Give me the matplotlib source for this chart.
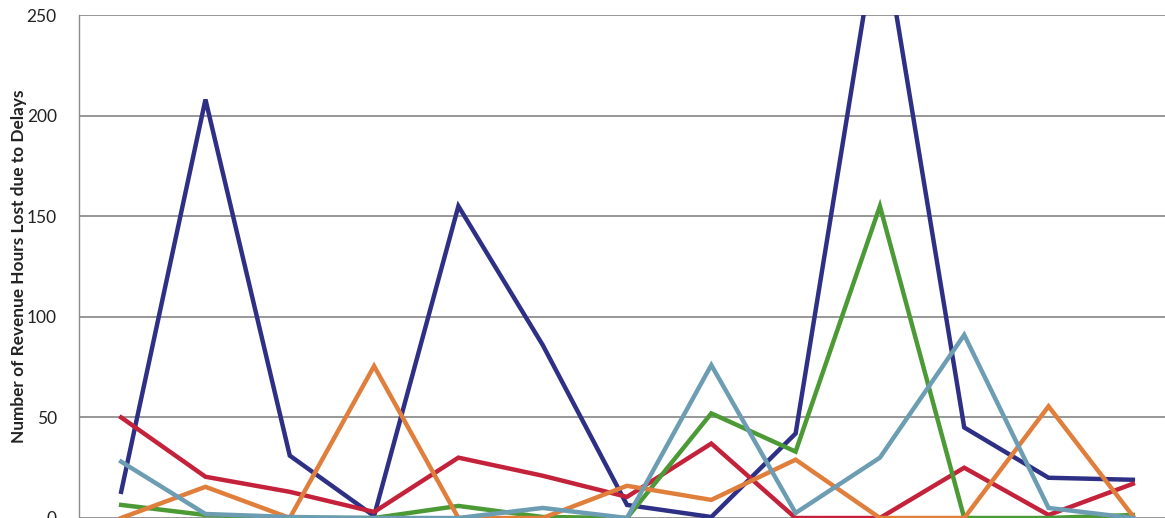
import matplotlib
matplotlib.use("Agg")
import matplotlib.pyplot as plt
import numpy as np

categories = ["1", "2", "3", "4", "5", "6", "7", "8", "9", "10", "11", "12", "13"]
navy_series = [13, 208, 31, 1, 155, 86, 6.5, 0.5, 42, 300, 45, 20, 19]
red_series = [50, 20.5, 13, 3, 30, 21, 10.5, 37, 0, 0, 25, 1.5, 17]
green_series = [6.5, 1.5, 0, 0, 6, 0.5, 0, 52, 33, 155, 0, 0, 1.5]
orange_series = [0, 15.5, 0, 75.5, 0, 0, 16, 9, 29, 0, 0, 55.5, 1]
teal_series = [28, 2, 0.5, 0, 0, 5, 0, 76, 2.5, 30, 91, 5, 0]
y_ticks = [0, 50, 100, 150, 200, 250]
y_label = "Number of Revenue Hours Lost due to Delays"

plt.rcParams['font.family'] = ['Lato', 'DejaVu Sans']

W, H = 1165, 518
fig = plt.figure(figsize=(W / 100, H / 100), dpi=100)
ax = fig.add_axes([79 / W, 0 / H, 1096 / W, 503 / H])

series = [
    (navy_series, '#2E3086'),
    (red_series, '#C4213B'),
    (green_series, '#4C9A35'),
    (orange_series, '#E07E3C'),
    (teal_series, '#6C9DB2'),
]
for vals, col in series:
    ax.plot(categories, vals, color=col, lw=3.2, solid_joinstyle='miter', clip_on=True)

ax.set_xlim(-0.5, len(categories) - 0.5)
ax.set_ylim(0, 250)
ax.set_yticks(y_ticks)
ax.yaxis.grid(True, color='#7a7a7a', lw=1.1)
ax.set_axisbelow(True)
for s in ['top', 'right', 'bottom']:
    ax.spines[s].set_visible(False)
ax.spines['left'].set_color('#8a8a8a')
ax.spines['left'].set_linewidth(1.0)
ax.tick_params(axis='y', length=0, pad=16, labelsize=12.5, labelcolor='#222222')
ax.tick_params(axis='x', length=0, labelbottom=False)
ax.set_ylabel(y_label, fontsize=12.4, fontweight='bold', color='#222222')
ax.yaxis.set_label_coords((19 - 79) / 1096, (518 - 266) / 503)
ax.yaxis.label.set_verticalalignment('center')

fig.savefig("out.png", dpi=100)
